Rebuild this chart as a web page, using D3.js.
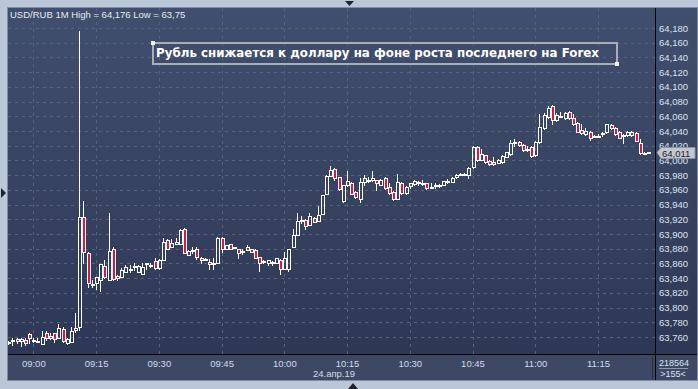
<!DOCTYPE html>
<html>
<head>
<meta charset="utf-8">
<script src="https://cdn.jsdelivr.net/npm/d3@7"></script>
<style>
  html, body { margin: 0; padding: 0; background: #bac7d8; }
  svg { display: block; }
</style>
</head>
<body>
<div id="chart"></div>
<script>
// ---------------------------------------------------------------------------
// Data (1-minute bars, USD/RUB, 24 Apr 2019)

const title = 'USD/RUB 1M High = 64,176 Low = 63,75';
const note = 'Рубль снижается к доллару на фоне роста последнего на Forex';
const dateLabel = '24.апр.19';
const firstBar = '08:54';
const lastPrice = 64.011;
const volumeLabel = '218564';
const barsLabel = '>155<';

const open = [
  63.752, 63.754, 63.757, 63.755, 63.756, 63.764, 63.756, 63.754, 63.750, 63.765,
  63.762, 63.765, 63.758, 63.771, 63.752, 63.753, 63.769, 63.773, 63.923, 63.874,
  63.832, 63.833, 63.837, 63.857, 63.838, 63.880, 63.843, 63.841, 63.848, 63.851,
  63.856, 63.848, 63.846, 63.859, 63.858, 63.863, 63.854, 63.864, 63.892, 63.882,
  63.887, 63.887, 63.907, 63.872, 63.878, 63.880, 63.868, 63.866, 63.862, 63.860,
  63.861, 63.895, 63.879, 63.886, 63.882, 63.879, 63.876, 63.878, 63.879, 63.878,
  63.869, 63.863, 63.861, 63.862, 63.861, 63.865, 63.853, 63.853, 63.882, 63.898,
  63.918, 63.919, 63.912, 63.922, 63.917, 63.927, 63.954, 63.979, 63.989, 63.977,
  63.945, 63.966, 63.970, 63.957, 63.948, 63.971, 63.974, 63.973, 63.973, 63.966,
  63.976, 63.964, 63.957, 63.948, 63.970, 63.956, 63.965, 63.968, 63.970, 63.970,
  63.969, 63.964, 63.966, 63.967, 63.966, 63.972, 63.971, 63.977, 63.981, 63.981,
  63.980, 63.991, 64.018, 64.001, 64.007, 63.999, 63.998, 63.997, 63.998, 64.005,
  64.009, 64.025, 64.025, 64.021, 64.016, 64.018, 64.007, 64.025, 64.044, 64.059,
  64.074, 64.055, 64.060, 64.057, 64.066, 64.058, 64.051, 64.042, 64.036, 64.039,
  64.033, 64.033, 64.037, 64.038, 64.048, 64.044, 64.039, 64.034, 64.034, 64.039,
  64.037, 64.024, 64.010, 64.011
];
const high = [
  63.754, 63.758, 63.758, 63.758, 63.759, 63.765, 63.759, 63.758, 63.768, 63.768,
  63.765, 63.766, 63.777, 63.774, 63.758, 63.774, 63.793, 64.176, 63.945, 63.875,
  63.838, 63.842, 63.859, 63.864, 63.929, 63.882, 63.844, 63.854, 63.858, 63.858,
  63.860, 63.858, 63.860, 63.861, 63.861, 63.867, 63.866, 63.894, 63.893, 63.893,
  63.894, 63.907, 63.908, 63.878, 63.882, 63.882, 63.869, 63.867, 63.866, 63.867,
  63.896, 63.896, 63.885, 63.887, 63.883, 63.880, 63.880, 63.885, 63.880, 63.879,
  63.869, 63.865, 63.864, 63.863, 63.867, 63.866, 63.876, 63.880, 63.907, 63.929,
  63.925, 63.920, 63.928, 63.923, 63.938, 63.953, 63.980, 63.992, 63.990, 63.978,
  63.967, 63.985, 63.971, 63.958, 63.976, 63.980, 63.977, 63.985, 63.974, 63.975,
  63.977, 63.969, 63.958, 63.982, 63.971, 63.965, 63.970, 63.973, 63.972, 63.973,
  63.970, 63.970, 63.969, 63.968, 63.972, 63.975, 63.977, 63.981, 63.983, 63.983,
  63.991, 64.020, 64.019, 64.015, 64.008, 64.000, 64.004, 64.002, 64.007, 64.012,
  64.028, 64.029, 64.026, 64.022, 64.019, 64.019, 64.026, 64.063, 64.064, 64.074,
  64.075, 64.065, 64.066, 64.066, 64.067, 64.063, 64.052, 64.050, 64.044, 64.040,
  64.034, 64.036, 64.038, 64.050, 64.049, 64.045, 64.040, 64.036, 64.040, 64.040,
  64.038, 64.029, 64.011, 64.012
];
const low = [
  63.750, 63.749, 63.752, 63.748, 63.749, 63.752, 63.753, 63.753, 63.750, 63.756,
  63.757, 63.753, 63.758, 63.753, 63.751, 63.753, 63.767, 63.770, 63.861, 63.828,
  63.828, 63.825, 63.823, 63.840, 63.838, 63.838, 63.838, 63.841, 63.848, 63.848,
  63.851, 63.848, 63.846, 63.852, 63.855, 63.852, 63.852, 63.864, 63.879, 63.882,
  63.887, 63.887, 63.874, 63.872, 63.874, 63.866, 63.861, 63.865, 63.852, 63.852,
  63.861, 63.876, 63.879, 63.879, 63.881, 63.868, 63.873, 63.878, 63.875, 63.867,
  63.850, 63.861, 63.858, 63.858, 63.861, 63.846, 63.853, 63.850, 63.882, 63.898,
  63.915, 63.907, 63.912, 63.916, 63.917, 63.927, 63.954, 63.979, 63.973, 63.960,
  63.944, 63.965, 63.954, 63.949, 63.944, 63.966, 63.971, 63.972, 63.960, 63.966,
  63.961, 63.955, 63.946, 63.947, 63.955, 63.955, 63.963, 63.967, 63.967, 63.967,
  63.961, 63.963, 63.963, 63.964, 63.966, 63.969, 63.971, 63.976, 63.980, 63.980,
  63.976, 63.990, 63.999, 64.000, 63.997, 63.994, 63.994, 63.996, 63.997, 64.004,
  64.008, 64.019, 64.020, 64.013, 64.013, 64.005, 64.006, 64.024, 64.043, 64.058,
  64.049, 64.054, 64.059, 64.056, 64.056, 64.048, 64.038, 64.036, 64.035, 64.028,
  64.032, 64.032, 64.033, 64.037, 64.043, 64.035, 64.030, 64.024, 64.033, 64.033,
  64.026, 64.009, 64.009, 64.010
];
const close = [
  63.753, 63.756, 63.755, 63.757, 63.752, 63.758, 63.756, 63.754, 63.760, 63.759,
  63.759, 63.757, 63.772, 63.754, 63.757, 63.768, 63.772, 63.923, 63.875, 63.833,
  63.831, 63.841, 63.859, 63.841, 63.877, 63.839, 63.840, 63.851, 63.855, 63.853,
  63.857, 63.856, 63.855, 63.860, 63.858, 63.854, 63.864, 63.889, 63.880, 63.888,
  63.889, 63.905, 63.874, 63.877, 63.878, 63.869, 63.865, 63.866, 63.859, 63.861,
  63.895, 63.879, 63.885, 63.879, 63.882, 63.874, 63.877, 63.882, 63.876, 63.867,
  63.860, 63.863, 63.864, 63.862, 63.867, 63.853, 63.867, 63.880, 63.898, 63.918,
  63.919, 63.911, 63.924, 63.916, 63.926, 63.953, 63.979, 63.987, 63.976, 63.961,
  63.966, 63.972, 63.954, 63.950, 63.971, 63.976, 63.974, 63.976, 63.969, 63.974,
  63.962, 63.956, 63.947, 63.971, 63.956, 63.964, 63.969, 63.972, 63.971, 63.970,
  63.962, 63.964, 63.966, 63.967, 63.972, 63.972, 63.976, 63.980, 63.981, 63.982,
  63.990, 64.018, 64.000, 64.009, 63.998, 63.995, 63.995, 64.001, 64.006, 64.011,
  64.024, 64.025, 64.021, 64.014, 64.016, 64.006, 64.025, 64.045, 64.062, 64.071,
  64.055, 64.062, 64.060, 64.065, 64.057, 64.049, 64.039, 64.037, 64.040, 64.031,
  64.033, 64.033, 64.037, 64.049, 64.044, 64.036, 64.031, 64.034, 64.039, 64.034,
  64.027, 64.010, 64.010, 64.011
];

// ---------------------------------------------------------------------------
// Layout

const width = 698;
const height = 389;
const panel = { left: 8, top: 8, right: 697, bottom: 380 };
const plot = { left: 8, top: 8, right: 655, bottom: 354 };

const ruLocale = d3.formatLocale({ decimal: ',', thousands: ' ', grouping: [3], currency: ['', ''] });
const priceFormat = ruLocale.format('.3f');

const startParts = firstBar.split(':').map(Number);
const bars = open.map((o, i) => ({
  time: new Date(2019, 3, 24, startParts[0], startParts[1] + i),
  open: o,
  high: high[i],
  low: low[i],
  close: close[i]
}));

const x = d3.scaleTime()
  .domain([new Date(2019, 3, 24, 9, 0), new Date(2019, 3, 24, 11, 15)])
  .range([33.3, 598]);

const y = d3.scaleLinear()
  .domain([63.76, 64.18])
  .range([337, 28]);

const yTicks = d3.range(0, 22).map(i => +(63.76 + i * 0.02).toFixed(2));
const xTicks = x.ticks(d3.timeMinute.every(15));

// ---------------------------------------------------------------------------
// Drawing

const svg = d3.select('#chart').append('svg')
  .attr('width', width)
  .attr('height', height)
  .style('font-family', '"Liberation Sans", Arial, sans-serif');

const defs = svg.append('defs');
const grad = defs.append('linearGradient')
  .attr('id', 'bg').attr('x1', 0).attr('y1', 0).attr('x2', 0).attr('y2', 1);
grad.append('stop').attr('offset', '0%').attr('stop-color', '#414f6e');
grad.append('stop').attr('offset', '100%').attr('stop-color', '#2b3653');

defs.append('clipPath').attr('id', 'plotClip')
  .append('rect')
  .attr('x', plot.left).attr('y', plot.top)
  .attr('width', plot.right - plot.left).attr('height', plot.bottom - plot.top);

// frame
svg.append('rect')
  .attr('x', panel.left - 0.5).attr('y', panel.top - 0.5)
  .attr('width', panel.right - panel.left + 1).attr('height', panel.bottom - panel.top + 1)
  .attr('fill', 'url(#bg)')
  .attr('stroke', '#7f8ca2');

// bottom strip
svg.append('rect')
  .attr('x', panel.left).attr('y', plot.bottom)
  .attr('width', panel.right - panel.left).attr('height', panel.bottom - plot.bottom)
  .attr('fill', '#3d4964');

// grid
const grid = svg.append('g')
  .attr('stroke', '#56637f')
  .attr('stroke-dasharray', '3,4')
  .attr('shape-rendering', 'crispEdges');
grid.selectAll('.hgrid').data(yTicks).enter().append('line')
  .attr('x1', plot.left).attr('x2', plot.right)
  .attr('y1', d => Math.round(y(d)) + 0.5)
  .attr('y2', d => Math.round(y(d)) + 0.5);
grid.selectAll('.vgrid').data(xTicks).enter().append('line')
  .attr('y1', plot.top).attr('y2', plot.bottom)
  .attr('x1', d => Math.round(x(d)) + 0.5)
  .attr('x2', d => Math.round(x(d)) + 0.5);

// title
svg.append('text')
  .attr('x', 10).attr('y', 18)
  .attr('fill', '#e6eaf2')
  .style('font-size', '9.5px')
  .text(title);

// candles
const candleLayer = svg.append('g')
  .attr('clip-path', 'url(#plotClip)')
  .attr('shape-rendering', 'crispEdges');

const candles = candleLayer.selectAll('.candle')
  .data(bars)
  .enter().append('g')
  .attr('class', 'candle');

candles.each(function(d) {
  const g = d3.select(this);
  const cx = Math.round(x(d.time));
  const top = Math.round(y(Math.max(d.open, d.close)));
  const bottom = Math.max(top + 1, Math.round(y(Math.min(d.open, d.close))));
  const hi = Math.round(y(d.high));
  const lo = Math.round(y(d.low));
  const bear = d.close < d.open;
  if (hi < top) {
    g.append('line')
      .attr('x1', cx + 0.5).attr('x2', cx + 0.5)
      .attr('y1', hi).attr('y2', top)
      .attr('stroke', '#ffffff');
  }
  if (lo > bottom) {
    g.append('line')
      .attr('x1', cx + 0.5).attr('x2', cx + 0.5)
      .attr('y1', bottom).attr('y2', lo + 1)
      .attr('stroke', '#ffffff');
  }
  g.append('rect')
    .attr('x', cx - 0.5)
    .attr('y', top + 0.5)
    .attr('width', 3)
    .attr('height', bottom - top)
    .attr('fill', bear ? '#e3143c' : 'none')
    .attr('stroke', '#ffffff');
});

// annotation box
const note1 = { x: 153, y: 43 };
const note2 = { x: 617, y: 64 };
svg.append('rect')
  .attr('x', note1.x).attr('y', note1.y)
  .attr('width', note2.x - note1.x).attr('height', note2.y - note1.y)
  .attr('fill', 'none')
  .attr('stroke', '#a9adb9')
  .attr('stroke-width', 2);
svg.append('text')
  .attr('x', 156).attr('y', 57)
  .attr('fill', '#ffffff')
  .attr('textLength', 443)
  .attr('lengthAdjust', 'spacingAndGlyphs')
  .style('font-family', '"DejaVu Sans", sans-serif')
  .style('font-size', '11.5px')
  .style('font-weight', 'bold')
  .text(note);
[note1, note2].forEach(p => {
  svg.append('rect')
    .attr('x', p.x - 2).attr('y', p.y - 2)
    .attr('width', 4).attr('height', 4)
    .attr('fill', '#f2f2f2');
});

// separators
const sep = svg.append('g').attr('shape-rendering', 'crispEdges');
sep.append('line')
  .attr('x1', plot.right + 0.5).attr('x2', plot.right + 0.5)
  .attr('y1', panel.top).attr('y2', panel.bottom)
  .attr('stroke', '#000000');
sep.append('line')
  .attr('x1', panel.left).attr('x2', panel.right)
  .attr('y1', plot.bottom + 0.5).attr('y2', plot.bottom + 0.5)
  .attr('stroke', '#000000');
sep.append('line')
  .attr('x1', 652.5).attr('x2', 652.5)
  .attr('y1', 357).attr('y2', 379)
  .attr('stroke', '#262d3c');
sep.append('line')
  .attr('x1', 659).attr('x2', 688)
  .attr('y1', 368.5).attr('y2', 368.5)
  .attr('stroke', '#8f99ab');

// right price axis
const yAxis = svg.append('g')
  .attr('transform', `translate(${plot.right},0)`)
  .call(d3.axisRight(y).tickValues(yTicks).tickFormat(priceFormat).tickSize(0).tickPadding(4));
yAxis.select('.domain').remove();
yAxis.selectAll('text')
  .attr('fill', '#dbe3f0')
  .style('font-size', '9.5px')
  .style('font-family', '"Liberation Sans", Arial, sans-serif');

// time axis
const xAxis = svg.append('g')
  .attr('transform', `translate(0,${plot.bottom})`)
  .call(d3.axisBottom(x).tickValues(xTicks).tickFormat(d3.timeFormat('%H:%M')).tickSize(0).tickPadding(6));
xAxis.select('.domain').remove();
xAxis.selectAll('text')
  .attr('fill', '#cfdaeb')
  .style('font-size', '9.5px')
  .style('font-family', '"Liberation Sans", Arial, sans-serif');

svg.append('text')
  .attr('x', 334).attr('y', 377)
  .attr('text-anchor', 'middle')
  .attr('fill', '#cfdaeb')
  .style('font-size', '9.5px')
  .text(dateLabel);

svg.append('text')
  .attr('x', 674).attr('y', 366)
  .attr('text-anchor', 'middle')
  .attr('fill', '#dbe3f0')
  .style('font-size', '9px')
  .text(volumeLabel);
svg.append('text')
  .attr('x', 673).attr('y', 377)
  .attr('text-anchor', 'middle')
  .attr('fill', '#dbe3f0')
  .style('font-size', '9px')
  .text(barsLabel);

// last price tag
const ly = Math.round(y(lastPrice)) + 0.5;
svg.append('path')
  .attr('d', `M657,${ly} L661,${ly - 5} L695,${ly - 5} L695,${ly + 6} L661,${ly + 6} Z`)
  .attr('fill', '#c3c7cf')
  .attr('stroke', '#8d929c');
svg.append('text')
  .attr('x', 662).attr('y', ly + 4)
  .attr('fill', '#1c2333')
  .style('font-size', '9.5px')
  .text(priceFormat(lastPrice));

// window markers
const markers = svg.append('g').attr('fill', '#1e2431');
markers.append('path').attr('d', 'M345,1 L354,1 L349.5,6 Z');
markers.append('path').attr('d', 'M1,188 L1,198 L6,193 Z');
markers.append('path').attr('d', 'M348,389 L358,389 L353,383 Z');
</script>
</body>
</html>
